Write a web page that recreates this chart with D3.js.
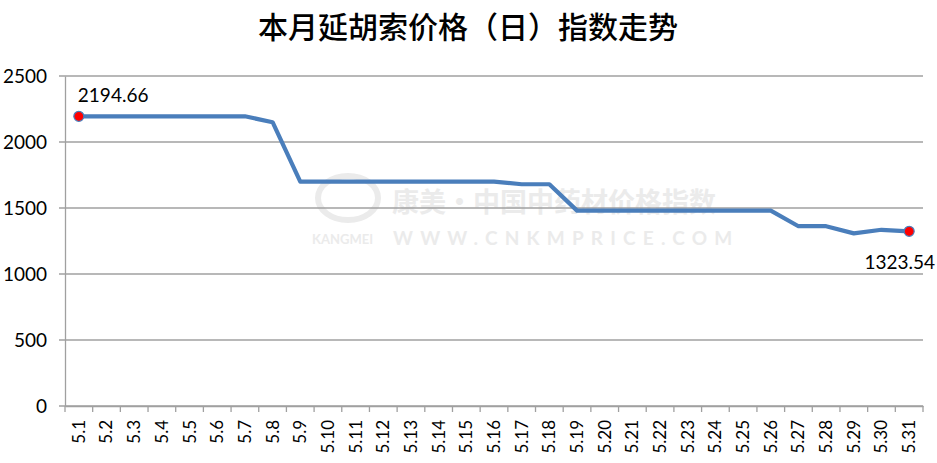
<!DOCTYPE html>
<html><head><meta charset="utf-8">
<script src="https://cdn.jsdelivr.net/npm/d3@7"></script>
<style>body{margin:0;background:#fff;overflow:hidden}</style>
</head><body>
<svg id="c" width="937" height="463"></svg>
<script>
const categories = ["5.1","5.2","5.3","5.4","5.5","5.6","5.7","5.8","5.9","5.10","5.11","5.12","5.13","5.14","5.15","5.16","5.17","5.18","5.19","5.20","5.21","5.22","5.23","5.24","5.25","5.26","5.27","5.28","5.29","5.30","5.31"];
const values = [2194.66,2194.66,2194.66,2194.66,2194.66,2194.66,2194.66,2150,1700,1700,1700,1700,1700,1700,1700,1700,1680,1680,1480,1480,1480,1480,1480,1480,1480,1480,1362,1362,1308,1335,1323.54];
const yTicks = [0,500,1000,1500,2000,2500];
const title = "本月延胡索价格（日）指数走势";

const svg = d3.select("#c");
const m = {l:65, r:14, t:76, b:57};
const W = 937, H = 463;
const x = d3.scaleBand().domain(categories).range([m.l, W - m.r]);
const y = d3.scaleLinear().domain([0,2500]).range([H - m.b, m.t]);

svg.append("text").attr("x", 468).attr("y", 38).attr("text-anchor","middle")
  .attr("font-family","'Noto Sans CJK SC'").attr("font-weight",500).attr("font-size",30).attr("fill","#000").text(title);

// watermark
const wm = svg.append("g").attr("fill","#ebebeb").attr("font-family","'Noto Sans CJK SC'");
wm.append("text").attr("x",392).attr("y",212).attr("font-size",27).attr("font-weight","bold").text("康美·中国中药材价格指数");
wm.append("text").attr("x",312).attr("y",244).attr("font-size",13).attr("font-family","Lato").attr("font-weight","bold").text("KANGMEI");
wm.append("text").attr("x",393).attr("y",245).attr("font-size",19).attr("font-family","Lato").attr("font-weight","bold").attr("letter-spacing",7.2).text("WWW.CNKMPRICE.COM");
wm.append("ellipse").attr("cx",348).attr("cy",198).attr("rx",30).attr("ry",22).attr("fill","none").attr("stroke","#ebebeb").attr("stroke-width",6);

// gridlines
svg.append("g").selectAll("line").data(yTicks).join("line")
  .attr("x1", m.l - 6).attr("x2", W - m.r).attr("y1", d=>y(d)).attr("y2", d=>y(d))
  .attr("stroke","#a0a0a0").attr("stroke-width",1.3);

// y axis
const ya = svg.append("g").attr("transform",`translate(${m.l},0)`)
  .call(d3.axisLeft(y).tickValues(yTicks).tickSize(0).tickPadding(18).tickFormat(d3.format("d")));
ya.select(".domain").attr("stroke","#a0a0a0").attr("stroke-width",1.3);
ya.selectAll("text").attr("font-family","Lato").attr("font-size",19).attr("fill","#000");

// x axis
const xa = svg.append("g").attr("transform",`translate(0,${H - m.b})`)
  .call(d3.axisBottom(x).tickSize(0).tickFormat(d=>d));
xa.select(".domain").attr("stroke","#a0a0a0").attr("stroke-width",1.3);
xa.selectAll(".tick line").remove();
xa.selectAll(".tick text").attr("font-family","Lato").attr("font-size",17).attr("fill","#000")
  .attr("text-anchor","end").attr("dy","0.35em")
  .attr("transform","translate(0,14) rotate(-90)").attr("x",0).attr("y",0);
const tickPos = categories.map(c => x(c)).concat([x(categories[categories.length-1]) + x.bandwidth()]);
xa.append("g").selectAll("line").data(tickPos).join("line")
  .attr("x1",d=>d).attr("x2",d=>d).attr("y1",0).attr("y2",6).attr("stroke","#a0a0a0").attr("stroke-width",1.3);

const cx = d => x(d) + x.bandwidth()/2;
const line = d3.line().x((d,i)=>cx(categories[i])).y(d=>y(d));
svg.append("path").datum(values).attr("d",line).attr("fill","none")
  .attr("stroke","#4a7ebb").attr("stroke-width",4.2).attr("stroke-linejoin","round");

const ends = [0, values.length-1];
svg.append("g").selectAll("circle").data(ends).join("circle")
  .attr("cx",i=>cx(categories[i])).attr("cy",i=>y(values[i])).attr("r",5)
  .attr("fill","#ff0000").attr("stroke","#4a7ebb").attr("stroke-width",1.2);

svg.append("text").attr("x", cx(categories[0]) - 1).attr("y", y(values[0]) - 14)
  .attr("font-family","Lato").attr("font-size",19).attr("fill","#000").text(values[0].toFixed(2));
const li = values.length-1;
svg.append("text").attr("x", 935).attr("y", y(values[li]) + 38).attr("text-anchor","end")
  .attr("font-family","Lato").attr("font-size",19).attr("fill","#000").text(values[li].toFixed(2));
</script>
</body></html>
